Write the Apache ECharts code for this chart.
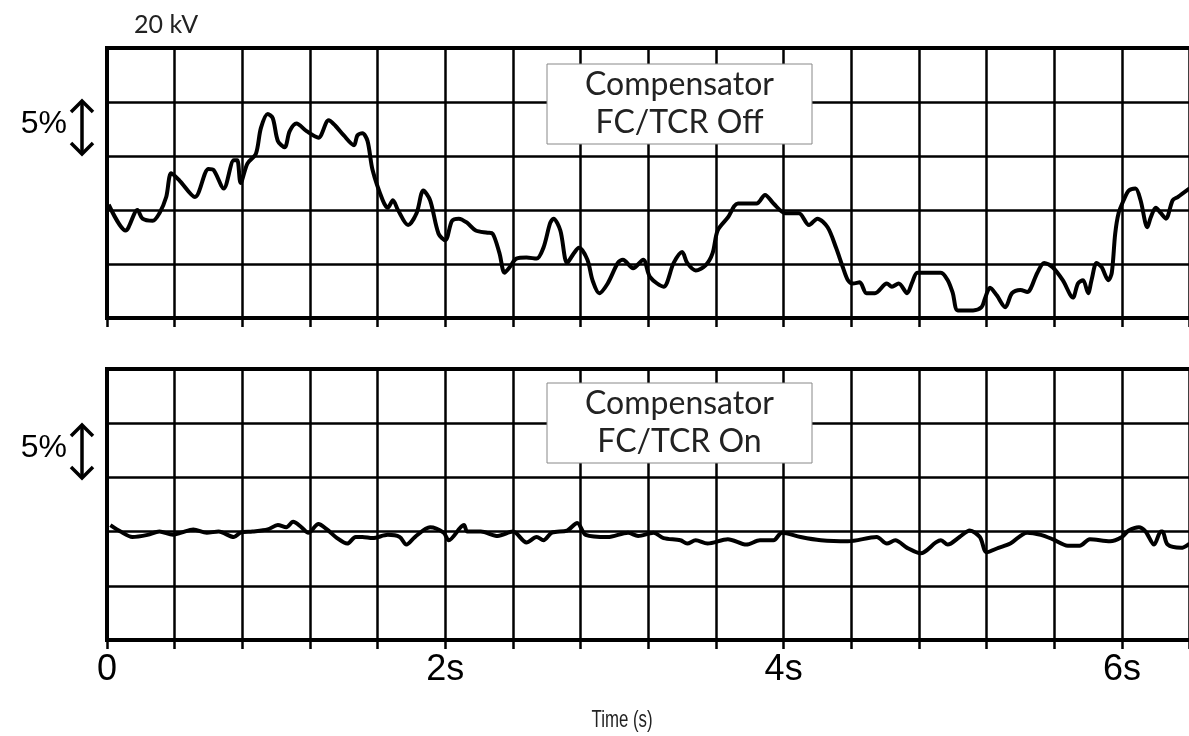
<!DOCTYPE html>
<html>
<head>
<meta charset="utf-8">
<title>Compensator FC/TCR</title>
<script src="https://cdn.jsdelivr.net/npm/echarts@6/dist/echarts.min.js"></script>
<style>
html, body { margin: 0; padding: 0; background: #fff; }
#chart { width: 1189px; height: 736px; }
</style>
</head>
<body>
<div id="chart"></div>
<script>
// time (s) and voltage level (%, 5% per division)
var timeOff = [0.01,0.11,0.18,0.21,0.27,0.31,0.35,0.38,0.43,0.52,0.60,0.63,0.69,0.75,0.77,0.79,0.83,0.88,0.91,0.95,
	0.98,1.01,1.05,1.08,1.12,1.18,1.25,1.31,1.35,1.40,1.46,1.48,1.51,1.54,1.57,1.63,1.66,1.69,1.72,1.78,
	1.83,1.87,1.91,1.96,2.00,2.04,2.08,2.13,2.18,2.25,2.28,2.32,2.35,2.38,2.42,2.48,2.54,2.58,2.62,2.64,
	2.68,2.72,2.76,2.79,2.84,2.87,2.91,2.96,3.02,3.05,3.11,3.17,3.21,3.29,3.35,3.40,3.43,3.48,3.54,3.58,
	3.61,3.67,3.73,3.84,3.89,3.94,4.01,4.09,4.15,4.20,4.26,4.31,4.35,4.38,4.41,4.45,4.49,4.54,4.61,4.64,
	4.68,4.73,4.76,4.79,4.85,4.93,4.97,5.00,5.03,5.12,5.17,5.19,5.22,5.26,5.31,5.35,5.40,5.44,5.50,5.54,
	5.59,5.65,5.71,5.74,5.77,5.80,5.82,5.85,5.88,5.92,5.94,5.96,5.98,6.01,6.04,6.08,6.11,6.15,6.17,6.20,
	6.23,6.26,6.30,6.33,6.40];
var voltOff = [10.5,8.1,10.0,9.2,9.0,9.7,11.2,13.4,12.7,11.2,13.8,13.7,12.0,14.6,14.6,12.5,14.3,15.2,17.6,18.9,
	18.5,16.4,15.8,17.3,18.0,17.3,16.7,18.3,17.8,16.9,16.0,16.9,17.1,16.4,13.7,10.9,10.2,10.9,10.0,8.6,
	9.7,11.8,10.9,7.8,7.2,9.0,9.2,8.8,8.1,7.9,7.8,6.0,4.2,4.7,5.5,5.6,5.5,6.5,8.8,9.2,
	8.1,5.1,6.0,6.5,5.4,3.5,2.3,3.2,5.1,5.4,4.6,5.4,3.8,2.9,5.1,6.1,5.1,4.4,4.9,6.0,
	8.1,9.3,10.6,10.6,11.4,10.6,9.7,9.7,8.6,9.2,8.4,6.5,4.7,3.5,3.2,3.3,2.3,2.3,3.2,2.9,
	3.2,2.3,3.3,4.2,4.2,4.2,3.5,2.3,0.7,0.7,1.0,1.8,2.8,2.1,1.0,2.3,2.6,2.4,4.2,5.1,
	4.7,3.5,1.9,3.2,3.5,2.3,3.5,5.1,4.7,3.5,4.2,7.8,9.7,10.9,11.8,12.0,10.9,8.4,9.3,10.2,
	9.7,9.2,10.9,11.2,12.0];
var timeOn = [0.02,0.08,0.15,0.24,0.31,0.39,0.44,0.51,0.59,0.66,0.75,0.79,0.86,0.95,1.01,1.06,1.10,1.15,1.19,1.25,
	1.30,1.36,1.42,1.47,1.51,1.57,1.66,1.73,1.77,1.82,1.91,1.99,2.02,2.11,2.13,2.21,2.31,2.40,2.48,2.54,
	2.58,2.63,2.72,2.78,2.83,2.96,3.08,3.14,3.23,3.29,3.39,3.43,3.48,3.55,3.67,3.78,3.86,3.94,3.99,4.10,
	4.22,4.38,4.55,4.61,4.66,4.73,4.81,4.90,4.93,4.97,5.04,5.10,5.16,5.20,5.27,5.34,5.44,5.52,5.59,5.68,
	5.75,5.81,5.93,6.00,6.04,6.10,6.14,6.19,6.23,6.24,6.27,6.35,6.40];
var voltOn = [10.6,10.0,9.5,9.7,10.0,9.7,9.9,10.2,9.9,10.0,9.5,9.9,10.0,10.2,10.6,10.4,10.9,10.4,9.9,10.7,
	10.2,9.4,8.9,9.5,9.5,9.4,9.7,9.5,8.8,9.5,10.4,9.9,9.2,10.6,10.0,10.0,9.6,10.0,9.0,9.5,
	9.2,9.9,10.1,10.8,9.7,9.5,9.9,9.6,9.9,9.4,9.2,8.9,9.2,8.9,9.3,8.8,9.2,9.2,9.9,9.5,
	9.2,9.1,9.5,8.9,9.2,8.5,8.0,9.0,9.2,8.8,9.5,10.1,9.5,8.1,8.5,8.9,9.9,9.7,9.3,8.7,
	8.7,9.3,9.1,9.5,10.1,10.4,10.0,8.8,10.0,10.0,8.8,8.5,8.9];
var xTickValues = [0, 2, 4, 6];
var xTickLabels = ['0', '2s', '4s', '6s'];
var panelTitles = [['Compensator', 'FC/TCR Off'], ['Compensator', 'FC/TCR On']];

function pairs(t, v) {
	var out = [];
	for (var i = 0; i < t.length; i++) {
		out.push([t[i], v[i]]);
	}
	return out;
}

function tickLabel(val) {
	for (var i = 0; i < xTickValues.length; i++) {
		if (Math.abs(val - xTickValues[i]) < 1e-6) return xTickLabels[i];
	}
	return '';
}

var gridLine = {color: '#000', width: 2.5};

function xAxisFor(idx, labels) {
	return {
		type: 'value', gridIndex: idx, min: 0, max: 6.42, interval: 0.4,
		axisLine: {show: false},
		axisTick: {show: true, length: 9, lineStyle: gridLine},
		axisLabel: {
			show: labels, formatter: tickLabel, margin: 12,
			fontSize: 36, fontFamily: 'Liberation Sans', color: '#000'
		},
		splitLine: {show: true, lineStyle: gridLine}
	};
}

function yAxisFor(idx) {
	return {
		type: 'value', gridIndex: idx, min: 0, max: 25, interval: 5,
		axisLine: {show: false}, axisTick: {show: false}, axisLabel: {show: false},
		splitLine: {show: true, lineStyle: gridLine}
	};
}

// 双向箭头 + 5% 标注
function scaleMark(yTop, yBot, yText) {
	var cx = 82;
	var st = {stroke: '#000', lineWidth: 3.5, fill: null};
	return [
		{type: 'line', shape: {x1: cx, y1: yTop + 2, x2: cx, y2: yBot - 2}, style: st},
		{type: 'polyline', shape: {points: [[cx - 11, yTop + 12], [cx, yTop + 1], [cx + 11, yTop + 12]]}, style: st},
		{type: 'polyline', shape: {points: [[cx - 11, yBot - 12], [cx, yBot - 1], [cx + 11, yBot - 12]]}, style: st},
		{type: 'text', style: {text: '5%', x: 67, y: yText, align: 'right', verticalAlign: 'middle',
			font: '32px "Liberation Sans"', fill: '#000'}}
	];
}

// 标题框
function titleBox(top, lines) {
	return [
		{type: 'rect', z: 10, shape: {x: 547, y: top, width: 265, height: 80},
			style: {fill: '#fff', stroke: '#888', lineWidth: 1}},
		{type: 'text', z: 11, style: {text: lines[0], x: 679.5, y: top + 21, align: 'center', verticalAlign: 'middle',
			font: '32px Lato', fill: '#222'}},
		{type: 'text', z: 11, style: {text: lines[1], x: 679.5, y: top + 59, align: 'center', verticalAlign: 'middle',
			font: '32px Lato', fill: '#222'}}
	];
}

var graphics = [
	{type: 'text', style: {text: '20 kV', x: 134, y: 25, verticalAlign: 'middle', font: '25px Lato', fill: '#222'}},
	// 窄体字：横向压缩
	{type: 'text', x: 622, y: 720, scaleX: 0.7,
		style: {text: 'Time (s)', x: 0, y: 0, align: 'center', verticalAlign: 'middle',
			font: '24px "Liberation Sans"', fill: '#222'}}
];
graphics = graphics.concat(scaleMark(100, 155, 124), scaleMark(424, 479, 448),
	titleBox(64, panelTitles[0]), titleBox(383, panelTitles[1]));

var chart = echarts.init(document.getElementById('chart'));
chart.setOption({
	animation: false,
	backgroundColor: '#fff',
	grid: [
		{left: 107, width: 1086, top: 48, height: 270, outerBoundsMode: 'none',
			show: true, borderColor: '#000', borderWidth: 4},
		{left: 107, width: 1086, top: 369, height: 271, outerBoundsMode: 'none',
			show: true, borderColor: '#000', borderWidth: 4}
	],
	xAxis: [xAxisFor(0, false), xAxisFor(1, true)],
	yAxis: [yAxisFor(0), yAxisFor(1)],
	series: [
		{type: 'line', xAxisIndex: 0, yAxisIndex: 0, data: pairs(timeOff, voltOff), showSymbol: false,
			smooth: 0.3, lineStyle: {color: '#000', width: 4}},
		{type: 'line', xAxisIndex: 1, yAxisIndex: 1, data: pairs(timeOn, voltOn), showSymbol: false,
			smooth: 0.3, lineStyle: {color: '#000', width: 4}}
	],
	graphic: graphics
});
</script>
</body>
</html>
